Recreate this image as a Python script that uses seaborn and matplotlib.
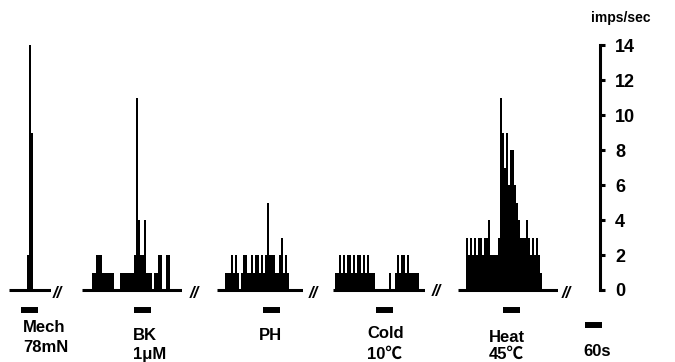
import numpy as np
import pandas as pd
import matplotlib
matplotlib.use("Agg")
import matplotlib.pyplot as plt
import seaborn as sns

sns.set_style("white")
plt.rcParams["font.family"] = ["Liberation Sans", "Noto Sans CJK SC"]
plt.rcParams["font.weight"] = "bold"
plt.rcParams["text.color"] = "black"
plt.rcParams["ytick.color"] = "black"
plt.rcParams["ytick.labelcolor"] = "black"

# discharge rate (imps/sec) per 7 s bin, one list per stimulus
mech_rate = [0, 0, 0, 0, 0, 0, 0, 0, 0, 2, 14, 9, 0, 0, 0, 0, 0, 0, 0, 0, 0]
bk_rate = [0, 0, 0, 0, 0, 1, 1, 2, 2, 2, 1, 1, 1, 1, 1, 1, 0, 0, 0, 1,
           1, 1, 1, 1, 1, 1, 2, 11, 4, 2, 2, 4, 1, 1, 1, 0, 1, 1, 2, 2,
           0, 0, 2, 2, 0, 0, 0, 0, 0, 0]
ph_rate = [0, 0, 0, 0, 1, 1, 1, 2, 1, 2, 1, 0, 1, 2, 2, 1, 1, 2, 1, 2,
           2, 1, 2, 1, 2, 5, 2, 2, 2, 1, 1, 2, 3, 1, 2, 1, 0, 0, 0, 0,
           0, 0, 0]
cold_rate = [0, 1, 1, 2, 1, 2, 1, 2, 2, 1, 2, 1, 2, 2, 1, 2, 1, 2, 1, 1,
             1, 0, 0, 0, 0, 0, 0, 0, 1, 0, 0, 1, 2, 1, 2, 2, 1, 2, 1, 1,
             1, 1, 1, 0, 0, 0]
heat_rate = [0, 0, 0, 0, 3, 2, 3, 2, 3, 2, 3, 3, 2, 3, 3, 4, 2, 2, 2, 2,
             3, 11, 9, 7, 9, 6, 8, 8, 6, 5, 4, 3, 3, 3, 4, 3, 2, 3, 2, 3,
             2, 1, 0, 0, 0, 0, 0, 0, 0, 0]

stim_names = ["Mech", "BK", "PH", "Cold", "Heat"]
stim_doses = ["78mN", "1μM", "", "10℃", "45℃"]
stim_onset_s = [42, 182, 161, 150, 157]
stim_dur_s = 60
scale_ticks = [0, 2, 4, 6, 8, 10, 12, 14]

rates = [mech_rate, bk_rate, ph_rate, cold_rate, heat_rate]

# layout (pixels)
W, H = 675, 362
BIN_S = 7
PX_PER_S = 2 / 7
ZERO_PX = 290
PX_PER_UNIT = 17.5
ylo = (ZERO_PX - H) / PX_PER_UNIT
yhi = ZERO_PX / PX_PER_UNIT
panel_left_px = [9, 82, 217, 333, 458]
stim_y = (ZERO_PX - 309.5) / PX_PER_UNIT

fig = plt.figure(figsize=(6.75, 3.62), dpi=100)

for rate, left in zip(rates, panel_left_px):
    n = len(rate)
    dur = n * BIN_S
    ax = fig.add_axes([left / W, 0, dur * PX_PER_S / W, 1])
    edges = [i * BIN_S for i in range(n + 1)]
    df = pd.DataFrame({"t": np.array(edges[:-1]) + BIN_S / 2, "rate": rate})
    sns.histplot(data=df, x="t", weights="rate", bins=edges, element="step",
                 fill=True, color="black", alpha=1, linewidth=0, ax=ax)
    ax.plot([0, dur], [0, 0], color="black", lw=2.2, solid_capstyle="butt")
    ax.set_xlim(0, dur)
    ax.set_ylim(ylo, yhi)
    ax.set_axis_off()
    ax.patch.set_visible(False)

for i, onset in enumerate(stim_onset_s):
    ax = fig.axes[i]
    ax.plot([onset, onset + stim_dur_s], [stim_y, stim_y], color="black",
            lw=4.3, solid_capstyle="butt", clip_on=False)

# scale axis on the right
ax_s = fig.add_axes([570 / W, 0, 30 / W, 1])
ax_s.set_xlim(0, 30 / PX_PER_S)
ax_s.set_ylim(ylo, yhi)
ax_s.patch.set_visible(False)
for side in ["left", "top", "bottom"]:
    ax_s.spines[side].set_visible(False)
ax_s.spines["right"].set_linewidth(2.2)
ax_s.spines["right"].set_color("black")
ax_s.spines["right"].set_bounds(0, 14)
ax_s.yaxis.tick_right()
ax_s.set_yticks(scale_ticks)
ax_s.set_xticks([])
ax_s.tick_params(axis="y", direction="out", length=3.8, width=2.2, pad=7,
                 labelsize=13, colors="black")
for lab in ax_s.get_yticklabels():
    lab.set_fontweight("bold")
ax_s.plot([15 / PX_PER_S, 15 / PX_PER_S + stim_dur_s],
          [(ZERO_PX - 325) / PX_PER_UNIT] * 2, color="black", lw=4.3,
          solid_capstyle="butt", clip_on=False)

fig.text(621 / W, 1 - 18 / H, "imps/sec", ha="center", va="center",
         fontsize=10, fontweight="bold")

# stimulus labels
name_pos = [(23, 328), (133, 336), (259, 336), (367, 334), (489, 337)]
dose_pos = [(23, 348), (133, 354), (259, 354), (367, 354), (489, 354)]
for name, dose, (nx, ny), (dx, dy) in zip(stim_names, stim_doses, name_pos, dose_pos):
    fig.text(nx / W, 1 - ny / H, name, ha="left", va="center", fontsize=12,
             fontweight="bold")
    if dose:
        fig.text(dx / W, 1 - dy / H, dose, ha="left", va="center", fontsize=12,
                 fontweight="bold")
fig.text(583 / W, 1 - 351 / H, "60s", ha="left", va="center", fontsize=12,
         fontweight="bold")

# axis break marks
for bx, by in [(57, 294), (194, 294), (313, 293), (436, 292), (566, 293)]:
    fig.text(bx / W, 1 - by / H, "//", ha="center", va="center", fontsize=12,
             fontweight="bold", fontstyle="italic")

fig.savefig("out.png", dpi=100)
